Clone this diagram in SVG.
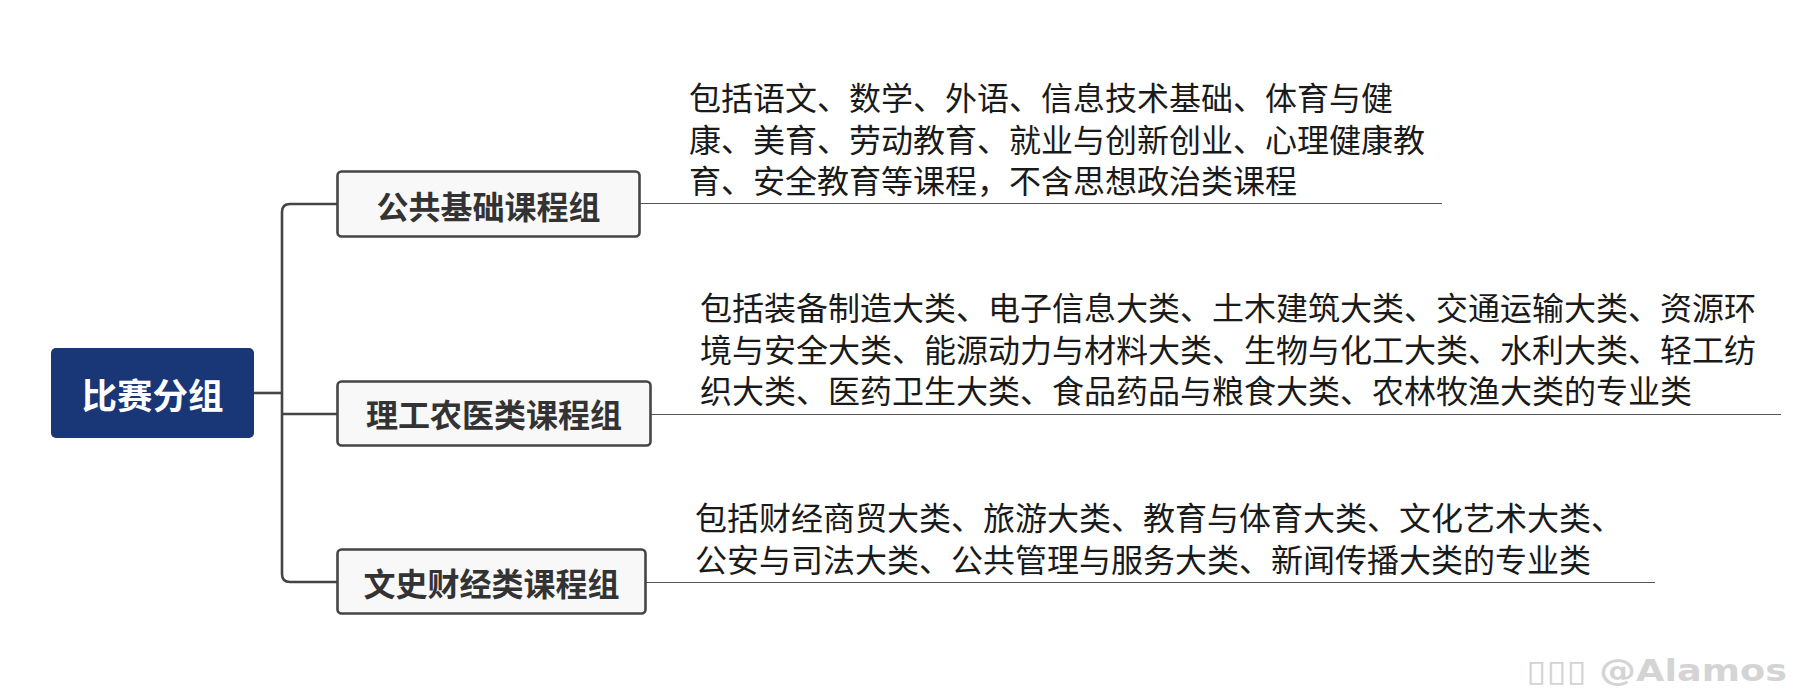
<svg xmlns="http://www.w3.org/2000/svg" width="1809" height="694" viewBox="0 0 1809 694">
<style>
.conn{fill:none;stroke:#454545;stroke-width:2.6}
.uline{fill:none;stroke:#555;stroke-width:1.2}
.box{fill:#f8f8f8;stroke:#454545;stroke-width:2.6}
.btxt{font-family:"Noto Sans CJK SC","Microsoft YaHei",sans-serif;font-size:32px;font-weight:bold;fill:#333;text-anchor:middle}
.dtxt{font-family:"Noto Sans CJK SC","Microsoft YaHei",sans-serif;font-size:32px;fill:#1a1a1a}
</style>
<rect width="1809" height="694" fill="#ffffff"/>
<g id="connectors">
<path class="conn" d="M254,393 H282"/>
<path class="conn" d="M337,204 H290 Q282,204 282,212 V574 Q282,582 290,582 H337"/>
<path class="conn" d="M282,414 H337"/>
<path class="uline" d="M640,203.5 H1442"/>
<path class="uline" d="M651,414.5 H1781"/>
<path class="uline" d="M646,582.5 H1655"/>
</g>
<g id="root">
<rect x="51" y="348" width="203" height="90" rx="5" fill="#193677"/>
<text x="152.5" y="409" style="font-family:'Noto Sans CJK SC','Microsoft YaHei',sans-serif;font-size:35.5px;font-weight:bold;fill:#ffffff;text-anchor:middle">比赛分组</text>
</g>
<g id="node1">
<rect class="box" x="337.5" y="171.5" width="302" height="65" rx="4"/>
<text class="btxt" x="488.5" y="219">公共基础课程组</text>
</g>
<g id="node2">
<rect class="box" x="337.5" y="381.5" width="313" height="64" rx="4"/>
<text class="btxt" x="494" y="427">理工农医类课程组</text>
</g>
<g id="node3">
<rect class="box" x="337.5" y="549.5" width="308" height="64" rx="4"/>
<text class="btxt" x="491.5" y="596">文史财经类课程组</text>
</g>
<g id="detail1">
<text class="dtxt"><tspan x="689" y="110">包括语文、数学、外语、信息技术基础、体育与健</tspan><tspan x="689" y="152">康、美育、劳动教育、就业与创新创业、心理健康教</tspan><tspan x="689" y="193">育、安全教育等课程，不含思想政治类课程</tspan></text>
</g>
<g id="detail2">
<text class="dtxt"><tspan x="700" y="320">包括装备制造大类、电子信息大类、土木建筑大类、交通运输大类、资源环</tspan><tspan x="700" y="362">境与安全大类、能源动力与材料大类、生物与化工大类、水利大类、轻工纺</tspan><tspan x="700" y="403">织大类、医药卫生大类、食品药品与粮食大类、农林牧渔大类的专业类</tspan></text>
</g>
<g id="detail3">
<text class="dtxt"><tspan x="695" y="530">包括财经商贸大类、旅游大类、教育与体育大类、文化艺术大类、</tspan><tspan x="695" y="572">公安与司法大类、公共管理与服务大类、新闻传播大类的专业类</tspan></text>
</g>
<g id="watermark">
<text x="1526" y="681" style="font-family:'DejaVu Sans',sans-serif;font-size:30px;font-weight:bold;fill:#d4d4d4" textLength="261" lengthAdjust="spacingAndGlyphs">▯▯▯ @Alamos</text>
</g>
</svg>
